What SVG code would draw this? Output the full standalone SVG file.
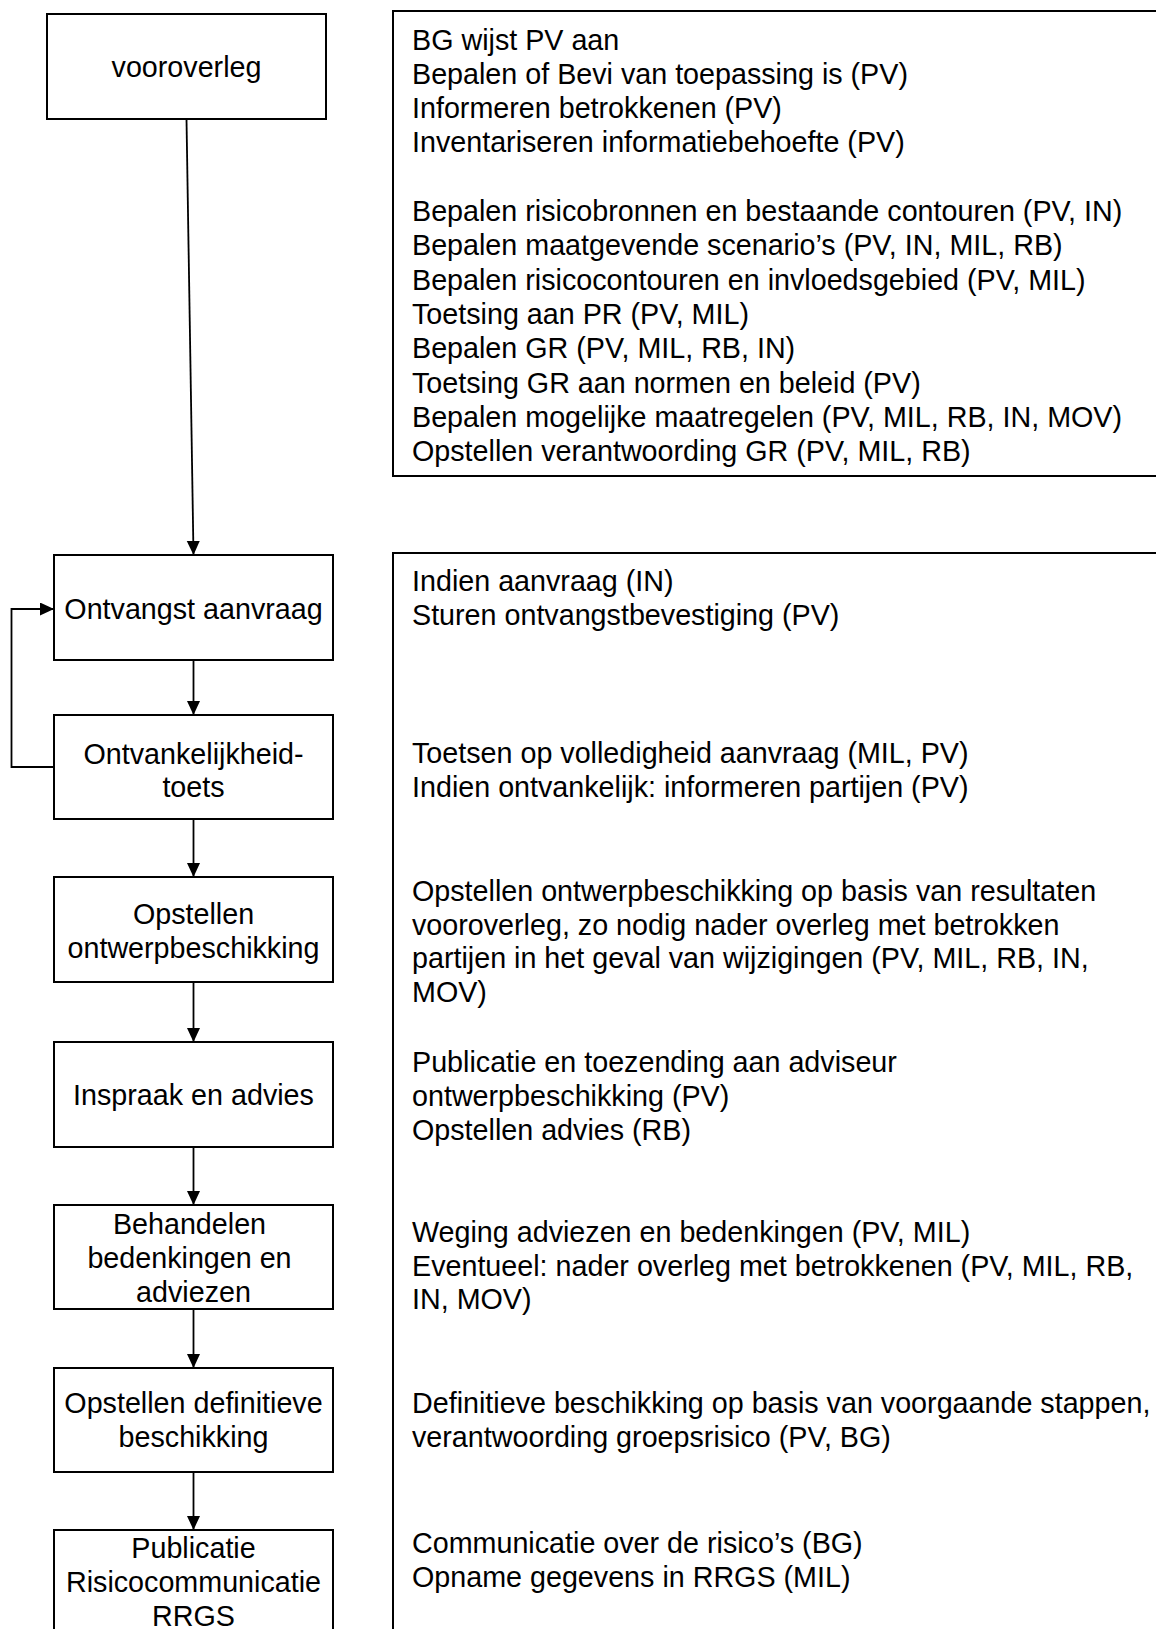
<svg xmlns="http://www.w3.org/2000/svg" width="1156" height="1629" viewBox="0 0 1156 1629">
<style>
text{font-family:"Liberation Sans",Arial,Helvetica,sans-serif;font-size:28.7px;fill:#000}
.c{text-anchor:middle}
.box{fill:#fff;stroke:#000;stroke-width:2}
.conn{fill:none;stroke:#000;stroke-width:1.8}
</style>
<defs>
<marker id="ah" markerUnits="userSpaceOnUse" markerWidth="15" markerHeight="14" refX="14" refY="6.5" orient="auto">
<path d="M0,0 L14,6.5 L0,13 z" fill="#000"/>
</marker>
</defs>
<rect width="1156" height="1629" fill="#fff"/>

<g id="connectors">
<line class="conn" x1="186.5" y1="119" x2="193.5" y2="555" marker-end="url(#ah)"/>
<line class="conn" x1="193.5" y1="660" x2="193.5" y2="715" marker-end="url(#ah)"/>
<line class="conn" x1="193.5" y1="819" x2="193.5" y2="877" marker-end="url(#ah)"/>
<line class="conn" x1="193.5" y1="982" x2="193.5" y2="1042" marker-end="url(#ah)"/>
<line class="conn" x1="193.5" y1="1147" x2="193.5" y2="1205" marker-end="url(#ah)"/>
<line class="conn" x1="193.5" y1="1309" x2="193.5" y2="1368" marker-end="url(#ah)"/>
<line class="conn" x1="193.5" y1="1472" x2="193.5" y2="1530" marker-end="url(#ah)"/>
<polyline class="conn" points="54,767 11.5,767 11.5,609 54,609" marker-end="url(#ah)"/>
</g>

<g id="vooroverleg">
<rect class="box" x="47" y="14" width="279" height="105"/>
<text class="c" x="186.5" y="77">vooroverleg</text>
</g>

<g id="ontvangst">
<rect class="box" x="54" y="555" width="279" height="105"/>
<text class="c" x="193.5" y="619">Ontvangst aanvraag</text>
</g>

<g id="ontvankelijkheid">
<rect class="box" x="54" y="715" width="279" height="104"/>
<text class="c" x="193.5" y="764">Ontvankelijkheid-</text>
<text class="c" x="193.5" y="797">toets</text>
</g>

<g id="ontwerpbeschikking">
<rect class="box" x="54" y="877" width="279" height="105"/>
<text class="c" x="193.5" y="924">Opstellen</text>
<text class="c" x="193.5" y="957.5">ontwerpbeschikking</text>
</g>

<g id="inspraak">
<rect class="box" x="54" y="1042" width="279" height="105"/>
<text class="c" x="193.5" y="1105">Inspraak en advies</text>
</g>

<g id="behandelen">
<rect class="box" x="54" y="1205" width="279" height="104"/>
<text class="c" x="189.5" y="1234">Behandelen</text>
<text class="c" x="189.5" y="1268">bedenkingen en</text>
<text class="c" x="193.5" y="1302">adviezen</text>
</g>

<g id="definitieve">
<rect class="box" x="54" y="1368" width="279" height="104"/>
<text class="c" x="193.5" y="1413">Opstellen definitieve</text>
<text class="c" x="193.5" y="1447">beschikking</text>
</g>

<g id="publicatie">
<rect class="box" x="54" y="1530" width="279" height="130"/>
<text class="c" x="193.5" y="1558">Publicatie</text>
<text class="c" x="193.5" y="1592">Risicocommunicatie</text>
<text class="c" x="193.5" y="1626">RRGS</text>
</g>

<g id="toelichting-vooroverleg">
<rect class="box" x="393" y="11" width="800" height="465"/>
<text x="412" y="49.5">BG wijst PV aan</text>
<text x="412" y="83.8">Bepalen of Bevi van toepassing is (PV)</text>
<text x="412" y="118.1">Informeren betrokkenen (PV)</text>
<text x="412" y="152.4">Inventariseren informatiebehoefte (PV)</text>
<text x="412" y="221">Bepalen risicobronnen en bestaande contouren (PV, IN)</text>
<text x="412" y="255.3">Bepalen maatgevende scenario’s (PV, IN, MIL, RB)</text>
<text x="412" y="289.6">Bepalen risicocontouren en invloedsgebied (PV, MIL)</text>
<text x="412" y="323.9">Toetsing aan PR (PV, MIL)</text>
<text x="412" y="358.2">Bepalen GR (PV, MIL, RB, IN)</text>
<text x="412" y="392.5">Toetsing GR aan normen en beleid (PV)</text>
<text x="412" y="426.8">Bepalen mogelijke maatregelen (PV, MIL, RB, IN, MOV)</text>
<text x="412" y="461">Opstellen verantwoording GR (PV, MIL, RB)</text>
</g>

<g id="toelichting-procedure">
<rect class="box" x="393" y="553" width="800" height="1120"/>
<text x="412" y="590.6">Indien aanvraag (IN)</text>
<text x="412" y="624.9">Sturen ontvangstbevestiging (PV)</text>
<text x="412" y="763">Toetsen op volledigheid aanvraag (MIL, PV)</text>
<text x="412" y="797">Indien ontvankelijk: informeren partijen (PV)</text>
<text x="412" y="901">Opstellen ontwerpbeschikking op basis van resultaten</text>
<text x="412" y="934.5">vooroverleg, zo nodig nader overleg met betrokken</text>
<text x="412" y="968">partijen in het geval van wijzigingen (PV, MIL, RB, IN,</text>
<text x="412" y="1001.5">MOV)</text>
<text x="412" y="1072">Publicatie en toezending aan adviseur</text>
<text x="412" y="1106">ontwerpbeschikking (PV)</text>
<text x="412" y="1140">Opstellen advies (RB)</text>
<text x="412" y="1242">Weging adviezen en bedenkingen (PV, MIL)</text>
<text x="412" y="1275.5">Eventueel: nader overleg met betrokkenen (PV, MIL, RB,</text>
<text x="412" y="1309">IN, MOV)</text>
<text x="412" y="1413">Definitieve beschikking op basis van voorgaande stappen,</text>
<text x="412" y="1447">verantwoording groepsrisico (PV, BG)</text>
<text x="412" y="1553">Communicatie over de risico’s (BG)</text>
<text x="412" y="1587">Opname gegevens in RRGS (MIL)</text>
</g>
</svg>
